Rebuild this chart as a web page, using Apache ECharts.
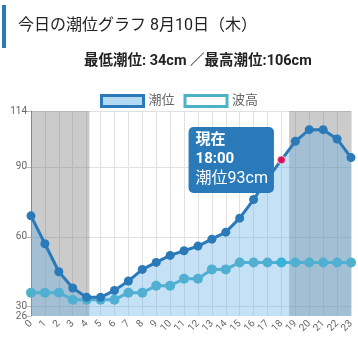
<!DOCTYPE html>
<html>
<head>
<meta charset="utf-8">
<script src="https://cdn.jsdelivr.net/npm/echarts@6/dist/echarts.min.js"></script>
<style>
  html, body { margin: 0; padding: 0; background: #fff; }
  #chart { width: 358px; height: 344px; }
</style>
</head>
<body>
<div id="chart"></div>
<script>
// Hourly tide level (cm) and wave height (plotted on the same scale)
const hours = [0,1,2,3,4,5,6,7,8,9,10,11,12,13,14,15,16,17,18,19,20,21,22,23];
const tideLevels = [69,57,45,38,34,34,37,41,46,49,52,54,56,59,62,68,76,85,93,101,106,106,102,94];
const waveHeights = [36,36,36,33,33,33,33,36,36,39,39,42,42,46,46,49,49,49,49,49,49,49,49,49];
const yMin = 26;
const yMax = 114;
const yTicks = [30,60,90,114];
const nightRanges = [[0, 4.2], [18.55, 23]];
const currentHour = 18;
const titleText = '今日の潮位グラフ 8月10日（木）';
const summaryText = '最低潮位: 34cm ／最高潮位:106cm';

const FONT = 'Roboto, "Noto Sans CJK JP", sans-serif';
const TIDE = '#2a7ab9';
const WAVE = '#4cb3c7';

const tideData = hours.map((h, i) => {
  const item = { value: [h, tideLevels[i]] };
  if (h === currentHour) {
    item.symbolSize = 8;
    item.itemStyle = { color: '#d6125f', borderColor: '#f5c2d4', borderWidth: 1 };
    item.label = {
      show: true,
      position: 'left',
      distance: 3,
      backgroundColor: TIDE,
      borderRadius: 5,
      padding: [4, 6, 4, 7],
      color: '#fff',
      fontFamily: FONT,
      formatter: p => '{b|現在}\n{b|' + p.value[0] + ':00}\n{n|潮位' + p.value[1] + 'cm}',
      rich: {
        b: { fontSize: 15, fontWeight: 'bold', color: '#fff', lineHeight: 19, align: 'left', fontFamily: FONT },
        n: { fontSize: 16, color: '#fff', lineHeight: 20, align: 'left', fontFamily: FONT }
      }
    };
  }
  return item;
});

const waveData = hours.map((h, i) => {
  const item = { value: [h, waveHeights[i]] };
  if (h === currentHour) item.itemStyle = { color: '#22b8d4' };
  return item;
});

const yLabelStyle = { color: '#666', fontSize: 10, margin: 4 };

const chart = echarts.init(document.getElementById('chart'), null, { renderer: 'canvas' });
chart.setOption({
  animation: false,
  backgroundColor: '#fff',
  textStyle: { fontFamily: FONT },
  graphic: [
    { type: 'rect', left: 2, top: 5, shape: { width: 4, height: 43 }, style: { fill: TIDE } },
    { type: 'text', left: 18, top: 18, style: { text: titleText, font: '16px ' + FONT, fill: '#222' } },
    { type: 'text', left: 84, top: 54, style: { text: summaryText, font: 'bold 14.5px ' + FONT, fill: '#222' } }
  ],
  legend: {
    top: 89,
    left: 'center',
    itemWidth: 42,
    itemHeight: 11,
    itemGap: 9,
    textStyle: { color: '#666', fontSize: 13, fontFamily: FONT },
    data: [
      { name: '潮位', icon: 'rect', itemStyle: { color: '#b4daf3', borderColor: TIDE, borderWidth: 3 } },
      { name: '波高', icon: 'rect', itemStyle: { color: '#fff', borderColor: WAVE, borderWidth: 3 } }
    ]
  },
  grid: { left: 31, right: 7, top: 111, bottom: 28, containLabel: false },
  xAxis: {
    type: 'value',
    min: 0,
    max: 23,
    interval: 1,
    axisLine: { show: false },
    axisTick: { show: false },
    axisLabel: { rotate: 45, color: '#666', fontSize: 10, margin: 6 },
    splitLine: { show: true, lineStyle: { color: '#e2e2e2' } }
  },
  yAxis: [
    {
      type: 'value',
      min: yMin,
      max: yMax,
      axisLine: { show: true, lineStyle: { color: '#999' } },
      axisTick: { show: true, length: 5, customValues: yTicks, lineStyle: { color: '#bbb' } },
      axisLabel: Object.assign({ customValues: yTicks }, yLabelStyle),
      splitLine: { show: true, lineStyle: { color: '#e0e0e0' } }
    },
    {
      // bottom bound of the scale gets its own label
      type: 'value',
      position: 'left',
      min: yMin,
      max: yMax,
      axisLine: { show: false },
      axisTick: { show: true, length: 5, customValues: [yMin], lineStyle: { color: '#bbb' } },
      axisLabel: Object.assign({ customValues: [yMin] }, yLabelStyle),
      splitLine: { show: false }
    }
  ],
  series: [
    {
      name: '潮位',
      type: 'line',
      data: tideData,
      symbol: 'circle',
      symbolSize: 9,
      lineStyle: { color: TIDE, width: 3 },
      itemStyle: { color: TIDE },
      areaStyle: { color: 'rgba(90,170,230,0.5)', origin: 'start' },
      z: 3,
      markArea: {
        silent: true,
        itemStyle: { color: 'rgba(106,106,106,0.35)' },
        data: nightRanges.map(r => [{ xAxis: r[0] }, { xAxis: r[1] }])
      }
    },
    {
      name: '波高',
      type: 'line',
      data: waveData,
      symbol: 'circle',
      symbolSize: 10,
      lineStyle: { color: WAVE, width: 3 },
      itemStyle: { color: WAVE },
      z: 2
    }
  ]
});
</script>
</body>
</html>
